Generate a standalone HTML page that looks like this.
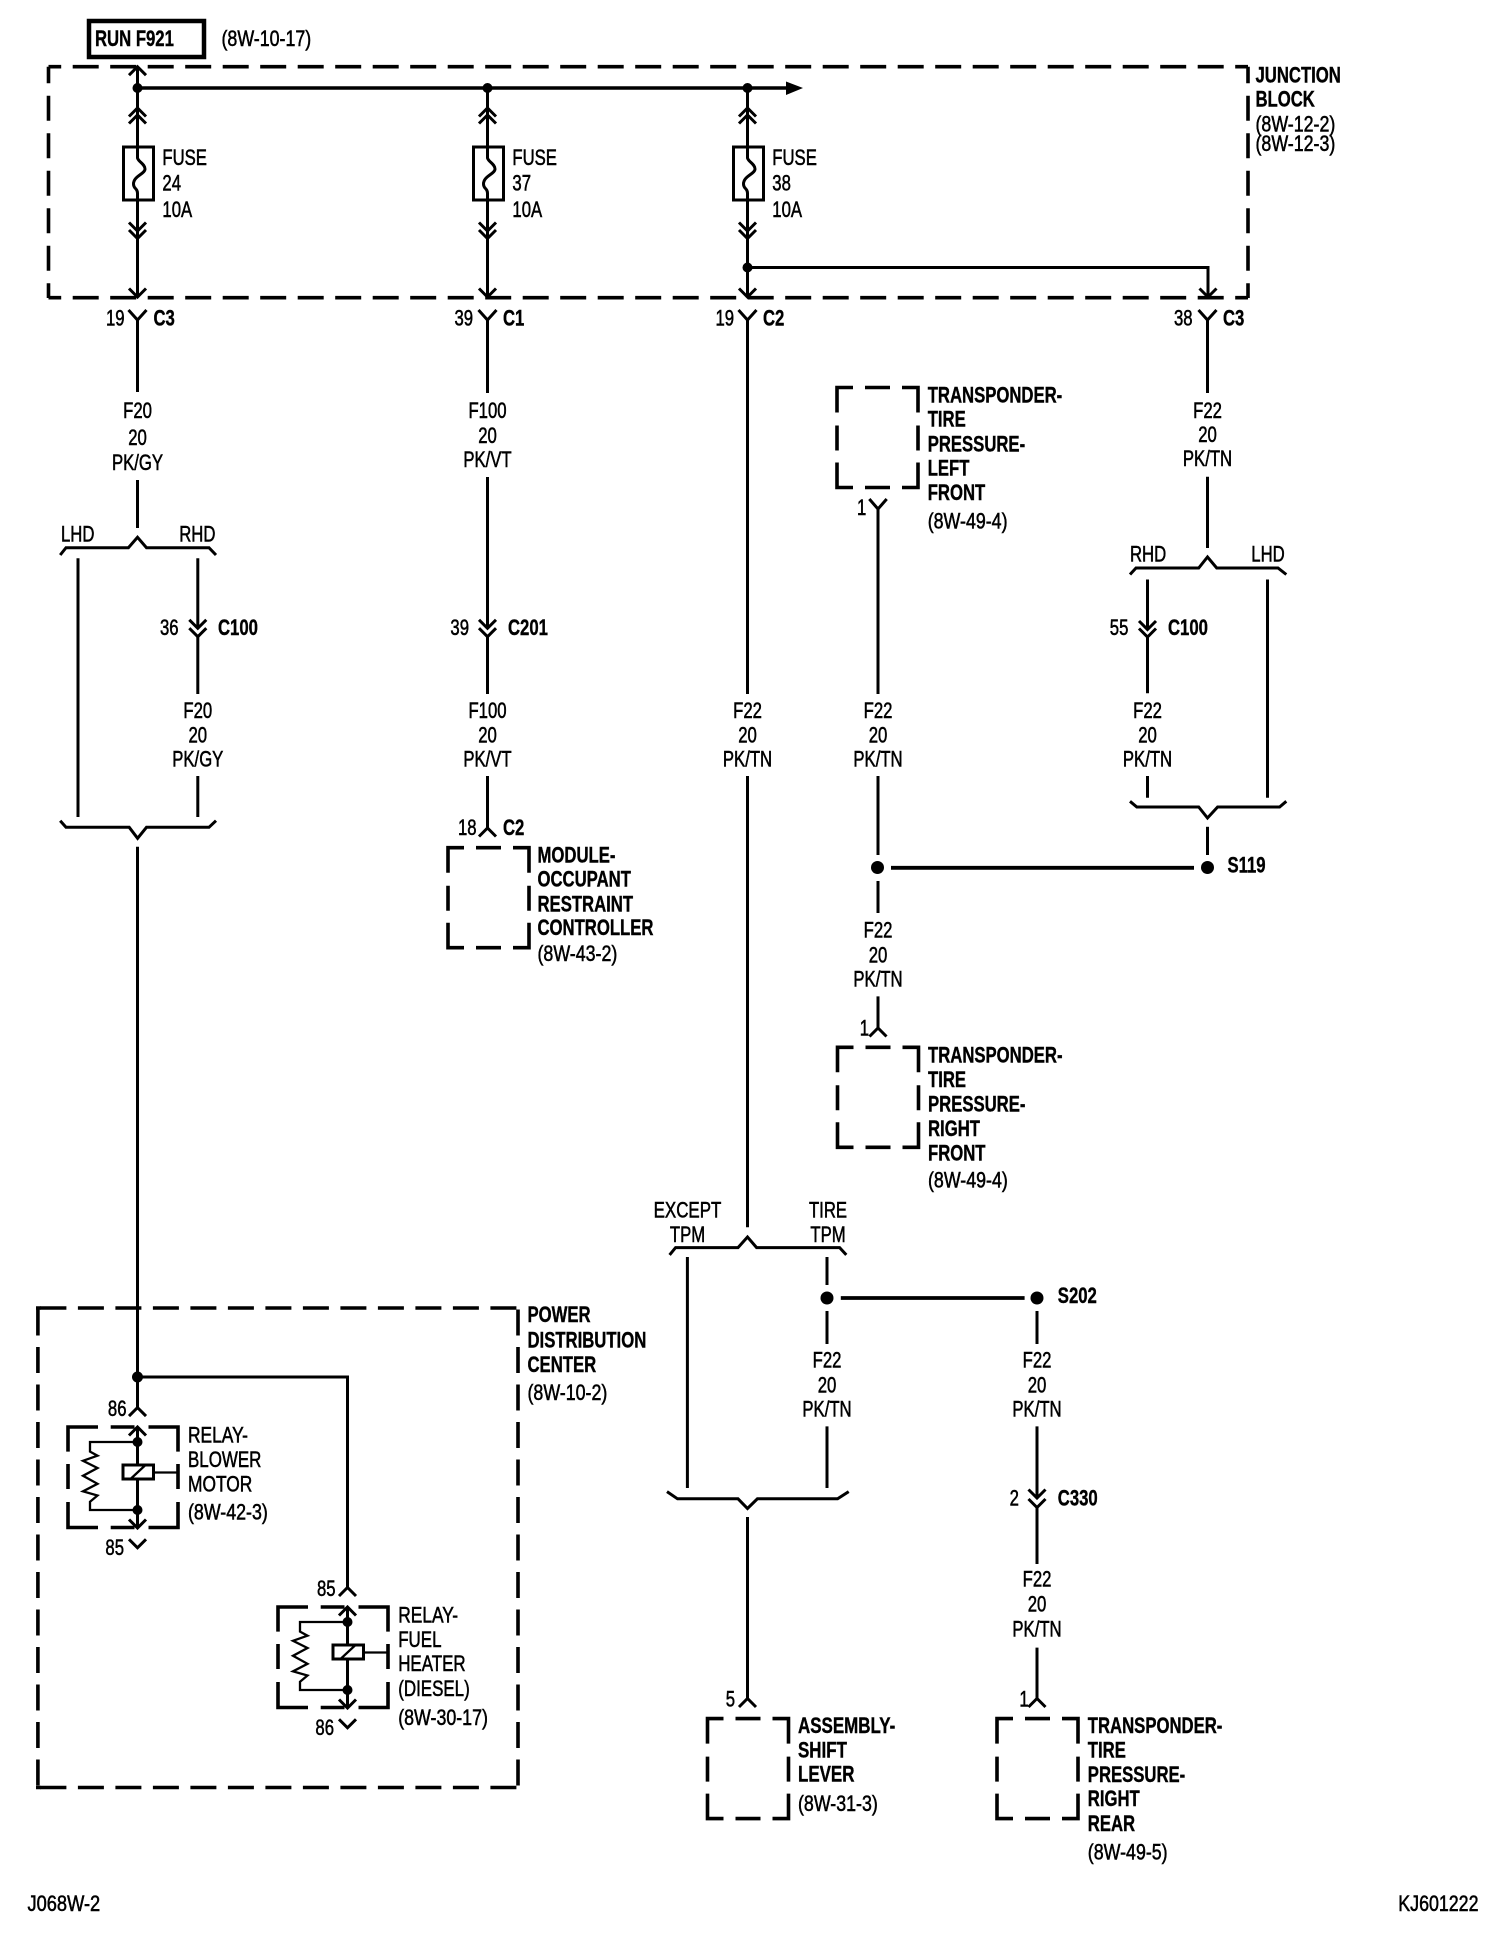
<!DOCTYPE html>
<html><head><meta charset="utf-8"><title>Wiring diagram</title>
<style>
html,body{margin:0;padding:0;background:#fff}
svg{display:block}
text{font-family:"Liberation Sans",sans-serif;font-size:22px;fill:#000;stroke:#000;stroke-width:.55px}
.b{font-weight:bold;stroke-width:.4px}
.m{text-anchor:middle}
.w{fill:none;stroke:#000;stroke-width:3}
.t{fill:none;stroke:#000;stroke-width:2.3}
.d{fill:none;stroke:#000;stroke-width:3.6}
</style></head><body>
<svg xmlns="http://www.w3.org/2000/svg" width="1504" height="1936" viewBox="0 0 1504 1936">
<defs>
<path id="cu" class="w" d="M-8.5 8.5L0 0L8.5 8.5"/>
<path id="cd" class="w" d="M-8.5 -8.5L0 0L8.5 -8.5"/>
<path id="box" class="d" d="M0 25V0H16M28 0H53M65 0H81V25M0 38V63M81 38V63M0 75V100H16M28 100H53M65 100H81V75"/>
<g id="fuse">
<rect class="w" x="-14" y="0" width="30" height="53"/>
<path class="w" d="M0 0V11C1 15 7.500 17 7.500 22C7.500 27 -4 29 -4 37C-4 42 0 41 0 46V53"/>
</g>
<g id="relay">
<path class="d" d="M-69.500 24.600V0H-39.500M-26.800 0H-3M11 0H40.500V24.600M-69.500 37V62M40.500 37V62M-69.500 75V100.500H-39.500M-26.800 100.500H-3M11 100.500H40.500V75"/>
<use href="#cu" x="0" y="0"/>
<use href="#cd" x="0" y="101"/>
<path class="w" d="M0 0V38M0 52V101"/>
<circle cx="0" cy="15" r="5"/><circle cx="0" cy="83" r="5"/>
<rect class="w" x="-14.500" y="38" width="30.500" height="14" />
<path class="t" d="M-7 52L8 38M16 45.500H40.500"/>
<path class="t" d="M0 15H-47.500V24.600L-40 28.700L-54.500 33.800L-40 41L-54.500 48.800L-40 56.800L-54.500 64.300L-40 68.500L-47.500 74.800V83H0"/>
<use href="#cd" x="0" y="120.800"/>
</g>
</defs>

<!-- RUN box -->
<rect x="89" y="21" width="115" height="36" fill="none" stroke="#000" stroke-width="4.500"/>
<text class="b" transform="translate(95 46) scale(.76 1)">RUN F921</text>
<text transform="translate(221.500 46) scale(.81 1)">(8W-10-17)</text>

<!-- Junction block -->
<path class="d" stroke-dasharray="26 11.500" stroke-dashoffset="13.300" d="M48.500 66.700H1248"/>
<path class="d" stroke-dasharray="26 11.500" stroke-dashoffset="13.300" d="M48.500 297.700H1248"/>
<path class="d" stroke-dasharray="25 12.500" stroke-dashoffset="8.400" d="M48.500 66.700V298M1248 66.700V298"/>
<path class="w" d="M137 88H790" style="stroke-width:3.400"/>
<path d="M786 81.500L803 88L786 95Z"/>
<circle cx="137.500" cy="88" r="5"/><circle cx="487.500" cy="88" r="5"/><circle cx="747.500" cy="88" r="5"/>
<circle cx="747.500" cy="267.500" r="5"/>
<path class="w" d="M747.500 267.500H1208V297"/>
<use href="#cu" x="137.500" y="66.700"/>
<path class="w" d="M137.500 66.700V146"/>
<path class="w" d="M487.500 88V146M747.500 88V146"/>
<g id="c1">
<use href="#cu" x="137.500" y="108"/><use href="#cu" x="137.500" y="115"/>
<use href="#fuse" x="137.500" y="147"/>
<path class="w" d="M137.500 200V297"/>
<use href="#cd" x="137.500" y="231"/><use href="#cd" x="137.500" y="238.500"/>
<use href="#cd" x="137.500" y="297"/>
</g>
<use href="#c1" x="350"/><use href="#c1" x="610"/>
<use href="#cd" x="1208" y="297"/>

<text transform="translate(162.400 165) scale(.76 1)">FUSE</text>
<text transform="translate(162.400 190.700) scale(.76 1)">24</text>
<text transform="translate(162.400 217) scale(.76 1)">10A</text>
<text transform="translate(512.400 165) scale(.76 1)">FUSE</text>
<text transform="translate(512.400 190.700) scale(.76 1)">37</text>
<text transform="translate(512.400 217) scale(.76 1)">10A</text>
<text transform="translate(772.300 165) scale(.76 1)">FUSE</text>
<text transform="translate(772.300 190.700) scale(.76 1)">38</text>
<text transform="translate(772.300 217) scale(.76 1)">10A</text>

<text class="b" transform="translate(1255.500 82.700) scale(.76 1)">JUNCTION</text>
<text class="b" transform="translate(1255.500 106.700) scale(.76 1)">BLOCK</text>
<text transform="translate(1255.500 131.700) scale(.81 1)">(8W-12-2)</text>
<text transform="translate(1255.500 151) scale(.81 1)">(8W-12-3)</text>

<!-- connectors under junction block -->
<path class="w" d="M128.500 310L137.500 320L146.500 310M137.500 320V392"/>
<path class="w" d="M478.500 310L487.500 320L496.500 310M487.500 320V393"/>
<path class="w" d="M738.500 310L747.500 320L756.500 310M747.500 320V694"/>
<path class="w" d="M1198.500 310L1207.500 320L1216.500 310M1207.500 320V393"/>
<text transform="translate(106 325.700) scale(.76 1)">19</text>
<text class="b" transform="translate(153.500 325.700) scale(.76 1)">C3</text>
<text transform="translate(454.500 325.700) scale(.76 1)">39</text>
<text class="b" transform="translate(503 325.700) scale(.76 1)">C1</text>
<text transform="translate(715.500 325.700) scale(.76 1)">19</text>
<text class="b" transform="translate(763 325.700) scale(.76 1)">C2</text>
<text transform="translate(1174 325.700) scale(.76 1)">38</text>
<text class="b" transform="translate(1223 325.700) scale(.76 1)">C3</text>

<!-- column 1 -->
<text class="m" transform="translate(137.500 418) scale(.76 1)">F20</text>
<text class="m" transform="translate(137.500 445) scale(.76 1)">20</text>
<text class="m" transform="translate(137.500 470) scale(.76 1)">PK/GY</text>
<path class="w" d="M137.500 480V528"/>
<path class="w" d="M60.200 555L66 547.700H128.400L137.500 537.300L146.500 547.700H209L216 555"/>
<text transform="translate(61 541.700) scale(.76 1)">LHD</text>
<text transform="translate(179.200 541.700) scale(.76 1)">RHD</text>
<path class="w" d="M78 558.300V817M197.800 558.300V628M197.800 636.700V694M197.800 776V817"/>
<use href="#cd" x="197.800" y="628.300"/><use href="#cd" x="197.800" y="636.700"/>
<text transform="translate(160 635) scale(.76 1)">36</text>
<text class="b" transform="translate(218 635) scale(.76 1)">C100</text>
<text class="m" transform="translate(197.800 717.800) scale(.76 1)">F20</text>
<text class="m" transform="translate(197.800 742.400) scale(.76 1)">20</text>
<text class="m" transform="translate(197.800 766.300) scale(.76 1)">PK/GY</text>
<path class="w" d="M60.200 820.700L66 827.300H129.200L137.600 838.300L146.500 827.300H209L216 820.700"/>
<path class="w" d="M137.500 846.700V1407.600"/>

<!-- column 2 -->
<text class="m" transform="translate(487.500 418) scale(.76 1)">F100</text>
<text class="m" transform="translate(487.500 443) scale(.76 1)">20</text>
<text class="m" transform="translate(487.500 467) scale(.76 1)">PK/VT</text>
<path class="w" d="M487.500 477V628M487.500 636.700V694M487.500 776V828"/>
<use href="#cd" x="487.500" y="628.300"/><use href="#cd" x="487.500" y="636.700"/>
<text transform="translate(450.400 635) scale(.76 1)">39</text>
<text class="b" transform="translate(508 635) scale(.76 1)">C201</text>
<text class="m" transform="translate(487.500 717.800) scale(.76 1)">F100</text>
<text class="m" transform="translate(487.500 742.500) scale(.76 1)">20</text>
<text class="m" transform="translate(487.500 766.500) scale(.76 1)">PK/VT</text>
<use href="#cu" x="487.500" y="828"/>
<text transform="translate(458 835) scale(.76 1)">18</text>
<text class="b" transform="translate(503 835) scale(.76 1)">C2</text>
<use href="#box" x="448" y="847.700"/>
<text class="b" transform="translate(537.500 862.300) scale(.76 1)">MODULE-</text>
<text class="b" transform="translate(537.500 886.700) scale(.76 1)">OCCUPANT</text>
<text class="b" transform="translate(537.500 911.700) scale(.76 1)">RESTRAINT</text>
<text class="b" transform="translate(537.500 935) scale(.76 1)">CONTROLLER</text>
<text transform="translate(537.500 961) scale(.81 1)">(8W-43-2)</text>

<!-- column 3 -->
<text class="m" transform="translate(747.500 718) scale(.76 1)">F22</text>
<text class="m" transform="translate(747.500 742.500) scale(.76 1)">20</text>
<text class="m" transform="translate(747.500 766.500) scale(.76 1)">PK/TN</text>
<path class="w" d="M747.500 776V1227.300"/>
<path class="w" d="M669.600 1254.900L675.600 1247.600H738L747.500 1237L756.600 1247.600H839.600L846.300 1254.900"/>
<text class="m" transform="translate(687.500 1217.600) scale(.77 1)">EXCEPT</text>
<text class="m" transform="translate(687.500 1241.800) scale(.76 1)">TPM</text>
<text class="m" transform="translate(828 1217.600) scale(.76 1)">TIRE</text>
<text class="m" transform="translate(828 1241.800) scale(.76 1)">TPM</text>
<path class="w" d="M687.400 1257V1488M827 1257V1285M827 1311V1344M827 1426.400V1488"/>
<circle cx="825" cy="1298" r="6.500" style="display:none"/>
<circle cx="827" cy="1298" r="6.500"/><circle cx="1037" cy="1298" r="6.500"/>
<path class="w" d="M840.800 1298H1024.600" style="stroke-width:3.800"/>
<text class="b" transform="translate(1057.800 1303) scale(.76 1)">S202</text>
<text class="m" transform="translate(827 1367.400) scale(.76 1)">F22</text>
<text class="m" transform="translate(827 1392.500) scale(.76 1)">20</text>
<text class="m" transform="translate(827 1416.700) scale(.76 1)">PK/TN</text>
<path class="w" d="M667 1491.600L677.500 1498.800H738L747.500 1508.500L757.400 1498.800H837.600L848.700 1491.600"/>
<path class="w" d="M747.500 1517V1699.300"/>
<use href="#cu" x="747.500" y="1698.500"/>
<text transform="translate(725.800 1706.500) scale(.76 1)">5</text>
<use href="#box" x="707.500" y="1718.600"/>
<text class="b" transform="translate(798 1733) scale(.77 1)">ASSEMBLY-</text>
<text class="b" transform="translate(798 1757.500) scale(.77 1)">SHIFT</text>
<text class="b" transform="translate(798 1781.500) scale(.77 1)">LEVER</text>
<text transform="translate(798 1811) scale(.81 1)">(8W-31-3)</text>

<!-- S202 branch -->
<path class="w" d="M1037 1311V1344M1037 1426.400V1498M1037 1507.500V1564M1037 1647.600V1698.500"/>
<text class="m" transform="translate(1037 1367.400) scale(.76 1)">F22</text>
<text class="m" transform="translate(1037 1392.500) scale(.76 1)">20</text>
<text class="m" transform="translate(1037 1416.700) scale(.76 1)">PK/TN</text>
<use href="#cd" x="1037" y="1498"/><use href="#cd" x="1037" y="1507.500"/>
<text transform="translate(1009.600 1505.500) scale(.76 1)">2</text>
<text class="b" transform="translate(1057.800 1505.500) scale(.76 1)">C330</text>
<text class="m" transform="translate(1037 1586.500) scale(.76 1)">F22</text>
<text class="m" transform="translate(1037 1611.500) scale(.76 1)">20</text>
<text class="m" transform="translate(1037 1636.500) scale(.76 1)">PK/TN</text>
<use href="#cu" x="1037" y="1698.500"/>
<text transform="translate(1019.400 1706.500) scale(.76 1)">1</text>
<use href="#box" x="997" y="1718.600"/>
<text class="b" transform="translate(1087.800 1733) scale(.76 1)">TRANSPONDER-</text>
<text class="b" transform="translate(1087.800 1757.500) scale(.76 1)">TIRE</text>
<text class="b" transform="translate(1087.800 1781.800) scale(.76 1)">PRESSURE-</text>
<text class="b" transform="translate(1087.800 1805.800) scale(.76 1)">RIGHT</text>
<text class="b" transform="translate(1087.800 1830.800) scale(.76 1)">REAR</text>
<text transform="translate(1087.800 1859.300) scale(.81 1)">(8W-49-5)</text>

<!-- column 4: transponder left front -->
<use href="#box" x="837" y="387.500"/>
<text class="b" transform="translate(927.700 402.700) scale(.76 1)">TRANSPONDER-</text>
<text class="b" transform="translate(927.700 426.700) scale(.76 1)">TIRE</text>
<text class="b" transform="translate(927.700 451.300) scale(.76 1)">PRESSURE-</text>
<text class="b" transform="translate(927.700 475.700) scale(.76 1)">LEFT</text>
<text class="b" transform="translate(927.700 499.800) scale(.76 1)">FRONT</text>
<text transform="translate(927.700 528.500) scale(.81 1)">(8W-49-4)</text>
<path class="w" d="M869.300 499L878 509L886.700 499M878 509V694M878 776V855M878 881V913M878 996.400V1028"/>
<text transform="translate(857 515) scale(.76 1)">1</text>
<text class="m" transform="translate(878 718) scale(.76 1)">F22</text>
<text class="m" transform="translate(878 742.400) scale(.76 1)">20</text>
<text class="m" transform="translate(878 766.500) scale(.76 1)">PK/TN</text>
<circle cx="877.500" cy="867.500" r="6.500"/><circle cx="1207.500" cy="867.500" r="6.500"/>
<path class="w" d="M891 867.800H1194" style="stroke-width:3.800"/>
<text class="m" transform="translate(878 937.500) scale(.76 1)">F22</text>
<text class="m" transform="translate(878 962.500) scale(.76 1)">20</text>
<text class="m" transform="translate(878 986.600) scale(.76 1)">PK/TN</text>
<use href="#cu" x="878" y="1028"/>
<text transform="translate(859.700 1035.700) scale(.76 1)">1</text>
<use href="#box" x="837.500" y="1047.300"/>
<text class="b" transform="translate(928 1062.500) scale(.76 1)">TRANSPONDER-</text>
<text class="b" transform="translate(928 1087) scale(.76 1)">TIRE</text>
<text class="b" transform="translate(928 1111.600) scale(.76 1)">PRESSURE-</text>
<text class="b" transform="translate(928 1136) scale(.76 1)">RIGHT</text>
<text class="b" transform="translate(928 1160.700) scale(.76 1)">FRONT</text>
<text transform="translate(928 1187.500) scale(.81 1)">(8W-49-4)</text>

<!-- column 5 -->
<text class="m" transform="translate(1207.500 418) scale(.76 1)">F22</text>
<text class="m" transform="translate(1207.500 442) scale(.76 1)">20</text>
<text class="m" transform="translate(1207.500 466) scale(.76 1)">PK/TN</text>
<path class="w" d="M1207.500 476.700V548"/>
<path class="w" d="M1130 574.500L1136 568H1198.700L1207.500 557L1216.700 568H1278L1286.300 574.500"/>
<text transform="translate(1130 561.600) scale(.76 1)">RHD</text>
<text transform="translate(1251.300 561.600) scale(.76 1)">LHD</text>
<path class="w" d="M1147.500 579.500V629M1147.500 637V693.300M1147.500 776V797.800M1267.500 579.500V797.800"/>
<use href="#cd" x="1147.500" y="629.500"/><use href="#cd" x="1147.500" y="637"/>
<text transform="translate(1109.800 635) scale(.76 1)">55</text>
<text class="b" transform="translate(1168 635) scale(.76 1)">C100</text>
<text class="m" transform="translate(1147.500 718) scale(.76 1)">F22</text>
<text class="m" transform="translate(1147.500 742.400) scale(.76 1)">20</text>
<text class="m" transform="translate(1147.500 766.500) scale(.76 1)">PK/TN</text>
<path class="w" d="M1130 801.300L1136.800 807H1198.700L1207.500 818L1217.600 807H1279.600L1286.300 801.300"/>
<path class="w" d="M1207.500 826.800V855"/>
<text class="b" transform="translate(1227.500 872.300) scale(.76 1)">S119</text>

<!-- Power distribution center -->
<path class="d" stroke-dasharray="26 11.500" d="M40.400 1308H518M40.400 1787.500H518"/>
<path class="d" d="M36 1308H41M36 1787.500H41"/>
<path class="d" stroke-dasharray="26 11.500" d="M37.900 1309.500V1789M518 1309.500V1789"/>
<text class="b" transform="translate(527.500 1322) scale(.76 1)">POWER</text>
<text class="b" transform="translate(527.500 1347.500) scale(.76 1)">DISTRIBUTION</text>
<text class="b" transform="translate(527.500 1372) scale(.76 1)">CENTER</text>
<text transform="translate(527.500 1400) scale(.81 1)">(8W-10-2)</text>

<circle cx="137.500" cy="1377" r="5.500"/>
<path class="w" d="M137.500 1377H347.500V1587.500"/>
<use href="#cu" x="137.500" y="1407.600"/>
<use href="#cu" x="347.500" y="1587.500"/>
<text transform="translate(107.900 1416) scale(.76 1)">86</text>
<text transform="translate(317 1596) scale(.76 1)">85</text>
<use href="#relay" x="137.500" y="1427"/>
<use href="#relay" x="347.500" y="1607"/>
<text transform="translate(105.400 1555) scale(.76 1)">85</text>
<text transform="translate(315.400 1735) scale(.76 1)">86</text>
<text transform="translate(188 1442.300) scale(.79 1)">RELAY-</text>
<text transform="translate(188 1467) scale(.77 1)">BLOWER</text>
<text transform="translate(188 1491.300) scale(.79 1)">MOTOR</text>
<text transform="translate(188 1519.300) scale(.81 1)">(8W-42-3)</text>
<text transform="translate(398.200 1622.300) scale(.79 1)">RELAY-</text>
<text transform="translate(398.200 1647) scale(.77 1)">FUEL</text>
<text transform="translate(398.200 1671) scale(.77 1)">HEATER</text>
<text transform="translate(398.200 1696) scale(.77 1)">(DIESEL)</text>
<text transform="translate(398.200 1724.800) scale(.81 1)">(8W-30-17)</text>

<text transform="translate(27.500 1911) scale(.83 1)">J068W-2</text>
<text transform="translate(1398.300 1911) scale(.81 1)">KJ601222</text>
</svg>
</body></html>
